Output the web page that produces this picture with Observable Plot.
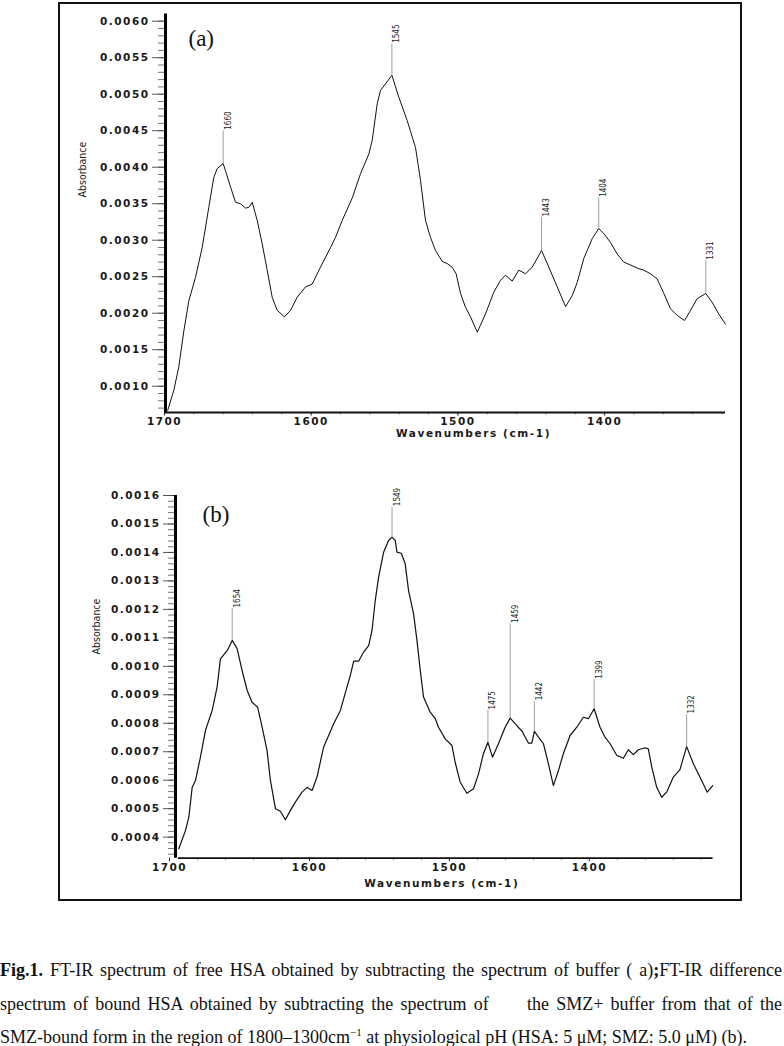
<!DOCTYPE html>
<html><head><meta charset="utf-8">
<script src="https://cdn.jsdelivr.net/npm/d3@7"></script>
<script src="https://cdn.jsdelivr.net/npm/@observablehq/plot@0.6"></script>
<style>
body{margin:0;background:#fff;width:784px;height:1046px;position:relative;overflow:hidden}
#frame{position:absolute;left:58px;top:2px;width:680px;height:895px;border:2px solid #111}
#a,#b{position:absolute;left:0}
#a{top:0}#b{top:450px}
.cap{position:absolute;left:0;width:782px;font-family:"Liberation Serif","Times New Roman",serif;font-size:18px;color:#111;line-height:18px;white-space:nowrap}
.j{text-align:justify;text-align-last:justify;white-space:normal}
.cap sup{font-size:11px;line-height:0;vertical-align:7px}
g[aria-label$="tick label"] text{letter-spacing:1.5px}
</style></head><body>
<div id="frame"></div>
<div id="a"></div><div id="b"></div>
<div class="cap j" style="top:961px"><b>Fig.1.</b> FT-IR spectrum of free HSA obtained by subtracting the spectrum of buffer ( a)<b>;</b>FT-IR difference</div>
<div class="cap j" style="top:995px">spectrum of bound HSA obtained by subtracting the spectrum of <span style="display:inline-block;width:24px"></span> the SMZ+ buffer from that of the</div>
<div class="cap" style="top:1028px">SMZ-bound form in the region of 1800–1300cm<sup>−1</sup> at physiological pH (HSA: 5 μM; SMZ: 5.0 μM) (b).</div>
<script>
// ---- Panel (a): free HSA ----
const wA = [1697.8,1693.7,1690.3,1686.8,1683.4,1678.9,1674.3,1669.8,1666.4,1664.1,1660,1658.4,1655,1651.6,1648.2,1644.8,1642.5,1640.2,1636.8,1633.4,1630,1626.6,1623.2,1618.2,1614.1,1609.5,1603.9,1599.3,1593.7,1586.8,1583.4,1578.9,1572,1566.4,1560.7,1558.4,1555,1552.8,1549.4,1545,1540.3,1534.6,1528.9,1525.5,1522.1,1518.7,1515.3,1510.7,1507.3,1503.9,1501.2,1498.2,1494.8,1491.4,1486.8,1481.2,1475.5,1471,1467.6,1463,1458.5,1453.9,1449.4,1446,1443,1438,1432.3,1426.6,1422.1,1418.7,1414.2,1408.5,1404,1400.5,1396,1391.4,1386.9,1381.2,1376.7,1373.3,1368.7,1364.2,1359.6,1355.1,1350.5,1345.5,1341.4,1336.9,1331,1326.7,1322.2,1317.6];
const absA = [0.00067,0.00094,0.00126,0.00176,0.00217,0.00249,0.00290,0.00345,0.00386,0.00398,0.00405,0.00395,0.00373,0.00352,0.00350,0.00344,0.00345,0.00352,0.00327,0.00295,0.00259,0.00222,0.00204,0.00195,0.00204,0.00222,0.00236,0.00240,0.00263,0.00290,0.00304,0.00327,0.00358,0.00391,0.00418,0.00437,0.00487,0.00505,0.00514,0.00526,0.00496,0.00464,0.00427,0.00382,0.00327,0.00304,0.00286,0.00271,0.00268,0.00263,0.00254,0.00227,0.00208,0.00195,0.00174,0.00199,0.00229,0.00245,0.00252,0.00244,0.00259,0.00254,0.00263,0.00275,0.00286,0.00263,0.00236,0.00209,0.00224,0.00242,0.00275,0.00302,0.00316,0.00309,0.00297,0.00281,0.00270,0.00265,0.00261,0.00259,0.00254,0.00247,0.00227,0.00206,0.00197,0.00190,0.00204,0.00220,0.00227,0.00215,0.00199,0.00185];
const peakPosA = [1660,1545,1443,1404,1331];
const peakTextA = ["1660","1545","1443","1404","1331"];
const peakAbsA = [0.00405,0.00526,0.00286,0.00316,0.00227];
const peakTopA = [0.00450,0.00569,0.00331,0.00358,0.00272];
const yMajorA = [0.0010,0.0015,0.0020,0.0025,0.0030,0.0035,0.0040,0.0045,0.0050,0.0055,0.0060];
const xDomA = [1700,1317.6], yDomA = [0.00064,0.0061];

// ---- Panel (b): SMZ-bound HSA ----
const wB = [1693.4,1688.6,1686.2,1683.8,1681.4,1677.9,1674.3,1669.5,1666,1663.6,1660.7,1658.4,1655.2,1651.7,1648.1,1644.5,1641,1637,1633.8,1630.3,1627.9,1624.3,1620.8,1617.2,1613.6,1610.1,1605.3,1601.7,1598.1,1594.6,1589.9,1582.7,1577.9,1573.2,1570.8,1568.4,1564.9,1561.3,1557.7,1555.3,1553,1550.6,1547,1543.5,1541,1538.7,1537.5,1534.4,1531.6,1529.2,1525.6,1523.2,1520.8,1518.5,1513.7,1510.1,1507.8,1503,1498.2,1495.9,1492.3,1487.5,1482.8,1479.2,1475.7,1472.5,1469.2,1465,1460.2,1456.6,1451.8,1448,1443.5,1441.1,1439.3,1436.4,1432.8,1429.3,1425.7,1422.1,1418.6,1413.8,1409,1404.3,1400.7,1396.6,1392.4,1388.8,1385.2,1380.4,1375.7,1372.2,1368.6,1365,1360.2,1357.9,1355.4,1351.9,1348.3,1344.8,1340,1335.3,1330.5,1325.7,1319.8,1315.8,1311.9];
const absB = [0.000359,0.000423,0.00047,0.000575,0.000599,0.000681,0.000775,0.000845,0.000927,0.001026,0.001044,0.001058,0.001091,0.001062,0.000985,0.000915,0.000874,0.000856,0.000786,0.000704,0.000599,0.0005,0.000491,0.000461,0.000494,0.000523,0.000558,0.000575,0.000564,0.000611,0.000716,0.000798,0.000845,0.000927,0.000968,0.001018,0.001018,0.00105,0.001073,0.001126,0.001231,0.001313,0.001401,0.001442,0.001454,0.001442,0.001401,0.001397,0.00136,0.001266,0.001184,0.001091,0.000985,0.000892,0.000839,0.000816,0.000786,0.000745,0.000722,0.000663,0.000593,0.000554,0.00057,0.000622,0.000693,0.000733,0.000681,0.000728,0.000786,0.000818,0.000792,0.000771,0.00073,0.00073,0.000772,0.000751,0.000728,0.000658,0.000581,0.000634,0.000693,0.000757,0.000786,0.000821,0.000816,0.000851,0.000786,0.000751,0.000728,0.000687,0.000677,0.000707,0.00069,0.000707,0.000714,0.00071,0.000646,0.000575,0.00054,0.000558,0.000611,0.000637,0.000718,0.000658,0.000599,0.000558,0.000581];
const peakPosB = [1655.2,1541,1472.5,1456.6,1439.3,1396.6,1330.5];
const peakTextB = ["1654","1549","1475","1459","1442","1399","1332"];
const peakAbsB = [0.001091,0.001454,0.000733,0.000818,0.000772,0.000851,0.000718];
const peakTopB = [0.001203,0.001559,0.000845,0.001149,0.000877,0.000953,0.000831];
const yMajorB = [0.0004,0.0005,0.0006,0.0007,0.0008,0.0009,0.0010,0.0011,0.0012,0.0013,0.0014,0.0015,0.0016];
const xDomB = [1700,1311.6], yDomB = [0.000326,0.0016];

const xMajor = [1700,1600,1500,1400];
const xLabel = "Wavenumbers (cm-1)", yLabel = "Absorbance";

const NARROW = '"Liberation Sans Narrow","DejaVu Sans Condensed","Arial Narrow",sans-serif';
const TICKF = '"DejaVu Sans",Verdana,sans-serif';

function panel(o) {
  const curve = o.w.map((w, i) => ({w, a: o.abs[i]}));
  const peaks = o.pPos.map((w, i) => ({w, a: o.pAbs[i], top: o.pTop[i], t: o.pText[i]}));
  const yMinor = d3.range(Math.round(o.yDom[0] / o.minStep) + 1, Math.round(o.yDom[1] / o.minStep) + 1)
    .map(k => k * o.minStep).filter(v => v <= o.yMajor[o.yMajor.length - 1] + 1e-12);
  const xMinor = d3.range(1320, 1701, 20).filter(v => v <= o.xDom[0] && v >= o.xDom[1]);
  const plot = Plot.plot({
    width: 784, height: o.h,
    marginLeft: o.ml, marginRight: o.mr, marginTop: o.mt, marginBottom: o.mb,
    style: {background: "transparent", overflow: "visible", color: "#111"},
    x: {domain: o.xDom, label: null},
    y: {domain: o.yDom, label: null},
    marks: [
      Plot.axisY(yMinor, {dx: o.ydx, tickSize: 7, tickFormat: () => "", stroke: "#555", strokeWidth: 0.8, label: null}),
      Plot.axisY(o.yMajor, {dx: o.ydx, tickSize: o.tsz, tickPadding: 3, tickFormat: d3.format(".4f"),
        fontFamily: TICKF, fontWeight: "bold", fontSize: 10.5, fill: "#1a1a1a", stroke: "#444", strokeWidth: 0.9, label: null}),
      Plot.axisX(xMinor, {tickSize: 2.5, tickFormat: () => "", stroke: "#666", strokeWidth: 0.7, label: null}),
      Plot.axisX(xMajor, {tickSize: 3.5, tickPadding: 2, tickFormat: d => String(d),
        fontFamily: TICKF, fontWeight: "bold", fontSize: 10.5, fill: "#1a1a1a", stroke: "#333", label: null}),
      Plot.ruleY([o.yDom[0]], {x1: o.xStart, x2: o.xDom[1], stroke: "#111", strokeWidth: 1.8}),
      Plot.ruleX([o.xDom[0]], {y1: o.yDom[0], y2: o.yAxTop, dx: o.ydx, stroke: "#000", strokeWidth: 3}),
      Plot.line(curve, {x: "w", y: "a", stroke: "#111", strokeWidth: o.sw, curve: "linear"}),
      Plot.ruleX(peaks, {x: "w", y1: "a", y2: "top", stroke: "#888", strokeWidth: 0.8}),
      Plot.text(peaks, {x: "w", y: "top", text: "t", rotate: -90, textAnchor: "start", dx: 5, dy: -1,
        fontFamily: NARROW, fontSize: 8, fill: "#222"}),
      Plot.text([o.name], {frameAnchor: "top-left", dx: o.nameDx, dy: o.nameDy, lineAnchor: "bottom", textAnchor: "start",
        fontFamily: '"Liberation Serif","Times New Roman",serif', fontSize: 23, fill: "#111"}),
      Plot.text([xLabel], {frameAnchor: "bottom", dx: o.xlDx, dy: o.xlDy, lineAnchor: "middle",
        fontFamily: TICKF, fontWeight: "bold", fontSize: 10.5, fill: "#1a1a1a"}),
      Plot.text([yLabel], {frameAnchor: "left", rotate: -90, dx: o.ylDx, dy: o.ylDy, lineAnchor: "middle",
        fontFamily: NARROW, fontSize: 10.5, fill: "#1a1a1a"})
    ]
  });
  plot.querySelectorAll("text").forEach(t => {
    if (t.textContent.startsWith("Wavenumbers")) t.style.letterSpacing = "1.6px";
    if (t.textContent === yLabel) t.style.fontStretch = "condensed";
  });
  return plot;
}

document.getElementById("a").append(panel({
  w: wA, abs: absA, pPos: peakPosA, pAbs: peakAbsA, pTop: peakTopA, pText: peakTextA,
  yMajor: yMajorA, minStep: 0.0001, xDom: xDomA, yDom: yDomA, yAxTop: 0.0061, xStart: 1700,
  h: 445, ml: 164, mr: 59, mt: 13.4, mb: 33, ydx: 1, tsz: 13, sw: 1.0,
  name: "(a)", nameDx: 24, nameDy: 31.6, xlDx: 28.5, xlDy: 21, ylDx: -82, ylDy: -15.7
}));
document.getElementById("b").append(panel({
  w: wB, abs: absB, pPos: peakPosB, pAbs: peakAbsB, pTop: peakTopB, pText: peakTextB,
  yMajor: yMajorB, minStep: 0.00002, xDom: xDomB, yDom: yDomB, yAxTop: 0.0016, xStart: 1693.6,
  h: 455, ml: 169, mr: 71.4, mt: 45, mb: 47.3, ydx: 6, tsz: 12, sw: 1.2,
  name: "(b)", nameDx: 33, nameDy: 26, xlDx: 0.5, xlDy: 25.5, ylDx: -73, ylDy: -22.4
}));
</script>
</body></html>
